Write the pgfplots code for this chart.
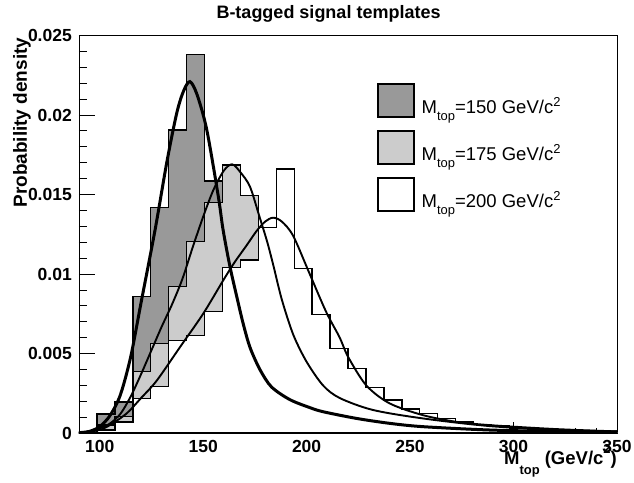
\documentclass[border=0pt]{standalone}
\usepackage{fontspec}
\setmainfont{Liberation Sans}
\usepackage{graphicx}
\usepackage{pgfplots}
\usepackage{pgfplotstable}
\pgfplotsset{compat=1.18}

\definecolor{hdark}{RGB}{153,153,153}
\definecolor{hlight}{RGB}{204,204,204}

% lowered / raised small text (ROOT style sub- and superscripts)
\newcommand{\lo}[2]{\raisebox{-#1}{\scalebox{0.7}{#2}}}
\newcommand{\hi}[2]{\raisebox{#1}{\scalebox{0.7}{#2}}}

% 30 bins from 90 to 350, left edges; last row closes the last bin
\pgfplotstableread{
x        a        b        c
90       0        0        0
98.667   0.00119  0.0005   0.0002
107.333  0.00195  0.00103  0.0007
116      0.00857  0.00386  0.00218
124.667  0.01417  0.00564  0.00291
133.333  0.01906  0.0092   0.0058
142      0.02382  0.01203  0.00612
150.667  0.01585  0.01451  0.00763
159.333  0.0100   0.01686  0.0104
168      0.0058   0.01493  0.01088
176.667  0.0033   0.0105   0.01294
185.333  0.0022   0.0076   0.0166
194      0.0016   0.0052   0.01036
202.667  0.0012   0.0036   0.00746
211.333  0.0009   0.0026   0.00533
220      0.0007   0.0019   0.00407
228.667  0.0005   0.0014   0.00287
237.333  0.0004   0.0010   0.00208
246      0.0003   0.0008   0.0015
254.667  0.00025  0.0006   0.00124
263.333  0.0002   0.00045  0.00092
272      0.00015  0.00035  0.0007
280.667  0.00012  0.00028  0.00055
289.333  0.0001   0.0002   0.00045
298      0.00008  0.00015  0.0003
306.667  0.00006  0.00012  0.0002
315.333  0.00005  0.0001   0.00015
324      0.00004  0.00008  0.0001
332.667  0.00003  0.00006  0.00008
341.333  0.00002  0.00005  0.00005
350      0.00002  0.00005  0.00005
}\hists

\begin{document}
\begin{tikzpicture}
\useasboundingbox (-79pt,-49pt) rectangle (555pt,433pt);
\begin{axis}[
    scale only axis,
    width=538pt, height=397.5pt,
    xmin=90, xmax=350, ymin=0, ymax=0.025,
    axis line style={line width=0.9pt},
    tick align=inside,
    xtick pos=left, ytick pos=left,
    xtick={100,150,200,250,300,350},
    minor x tick num=4,
    ytick={0,0.005,0.01,0.015,0.02,0.025},
    yticklabels={0,0.005,0.01,0.015,0.02,0.025},
    scaled y ticks=false,
    minor y tick num=4,
    major tick length=16pt, minor tick length=8pt,
    xtick style={/pgfplots/major tick length=11pt, /pgfplots/minor tick length=5.5pt},
    tick style={black, line width=0.8pt},
    /pgf/number format/assume math mode=true,
    ticklabel style={font=\fontsize{17.5}{17.5}\selectfont\bfseries, inner sep=0pt},
    xticklabel style={yshift=-7pt},
    yticklabel style={xshift=-7pt},
    every axis title shift=0pt,
    title={B-tagged signal templates},
    title style={font=\fontsize{18}{18}\selectfont\bfseries,
        at={(axis description cs:0.4638,1.0433)}, anchor=base, inner sep=0pt},
    xlabel={M\lo{0.57em}{top} (GeV/c\hi{0.59em}{2})},
    x label style={font=\fontsize{18.5}{18.5}\selectfont\bfseries,
        at={(axis description cs:1,-0.0787)}, anchor=base east, inner sep=0pt},
    ylabel={Probability density},
    y label style={font=\fontsize{19}{19}\selectfont\bfseries,
        at={(axis description cs:-0.0967,0.995)}, anchor=base east, inner sep=0pt},
    legend image code/.code={\draw[#1, line width=1.4pt] (0pt,-11.5pt) rectangle (36pt,21.5pt);},
    legend style={at={(axis description cs:0.554,0.880)}, anchor=north west,
        draw=none, fill=none, inner sep=0pt,
        font=\fontsize{18.5}{18.5}\selectfont,
        column sep=7pt, row sep=12.5pt,
        nodes={inner sep=0pt, text depth=0pt}},
    legend cell align=left,
]
\addplot[const plot, fill=hdark, draw=black, line width=1.4pt] table[x=x, y=a] {\hists} \closedcycle;
\addlegendentry{M\lo{0.38em}{top}=150 GeV/c\hi{0.36em}{2}}
\addplot[const plot, fill=hlight, draw=black, line width=1.4pt] table[x=x, y=b] {\hists} \closedcycle;
\addlegendentry{M\lo{0.38em}{top}=175 GeV/c\hi{0.36em}{2}}
\addplot[const plot, fill=white, draw=black, line width=1.4pt] table[x=x, y=c] {\hists} \closedcycle;
\addlegendentry{M\lo{0.38em}{top}=200 GeV/c\hi{0.36em}{2}}

% fitted templates
\addplot[smooth, tension=0.5, line width=3pt] coordinates {
    (90,0.00002) (95,0.0001) (100,0.0004) (105,0.0011) (110,0.0024)
    (115,0.0048) (120,0.0082) (126.8,0.0128) (132.4,0.0170) (137.2,0.0201)
    (140.5,0.0215) (143.6,0.0221) (147,0.0213) (151.7,0.0191) (157.3,0.0149)
    (159.6,0.0128) (162.9,0.0105) (166.2,0.0086) (169.3,0.0069) (172.6,0.0054)
    (177.4,0.0040) (183,0.0029) (191.9,0.0021) (201.5,0.0016) (207.9,0.00134)
    (224,0.00092) (240,0.00061) (256,0.0004) (288,0.00019) (320,0.0001) (350,0.00005)
};
\addplot[smooth, tension=0.5, line width=1.9pt] coordinates {
    (90,0.00003) (95,0.0001) (100,0.0003) (105,0.0006) (110,0.0012)
    (115,0.0023) (120,0.0037) (125,0.0052) (130,0.0067) (135,0.0081)
    (140,0.0097) (145,0.0117) (150,0.0136) (155,0.0153) (160,0.0165)
    (164,0.0169) (168,0.0164) (172.6,0.0155) (177,0.0137) (181,0.0120)
    (184,0.0105) (188,0.0084) (193.5,0.0062) (199.9,0.0045) (207.9,0.0030)
    (216,0.0022) (232,0.00145) (256,0.00092) (288,0.00044) (320,0.0002) (350,0.0001)
};
\addplot[smooth, tension=0.5, line width=1.9pt] coordinates {
    (90,0.00002) (95,0.00008) (100,0.0002) (105,0.0005) (113.1,0.00124)
    (120,0.0022) (127.6,0.0033) (138.8,0.0054) (150,0.0075) (159.7,0.0096)
    (165,0.0107) (171,0.0118) (175.8,0.0127) (180,0.0133) (183.8,0.01354)
    (188,0.0133) (193.5,0.0124) (201.5,0.0100) (209.5,0.0076) (216,0.0060)
    (220,0.0048) (228.8,0.0030) (240,0.00187) (256,0.00113) (272,0.00071)
    (288,0.0005) (320,0.00025) (350,0.0001)
};
\end{axis}
\end{tikzpicture}
\end{document}
